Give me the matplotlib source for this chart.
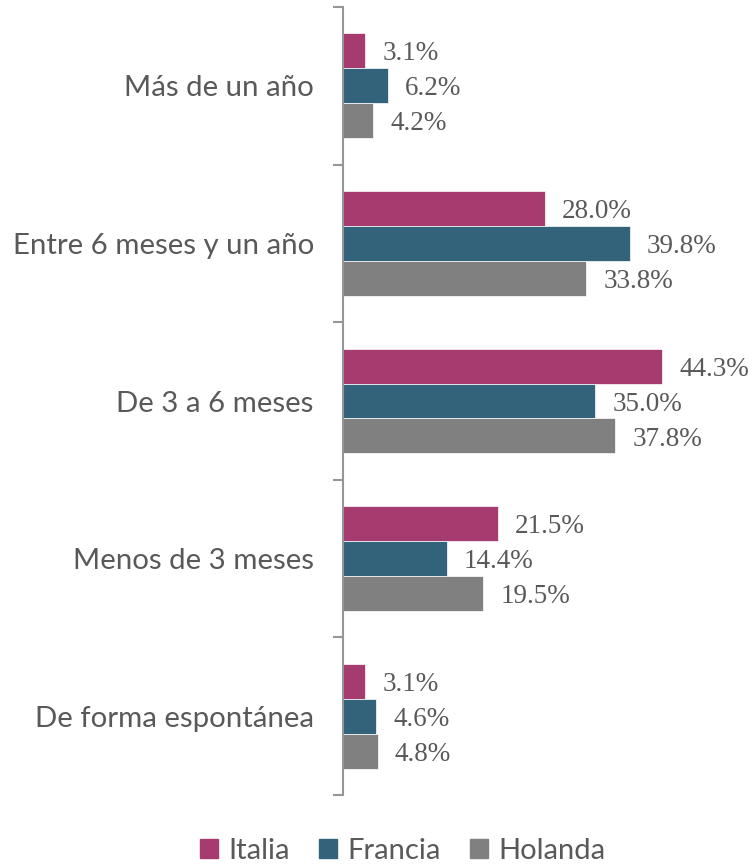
import matplotlib.pyplot as plt
import numpy as np
from matplotlib.patches import Patch

categories = ['Más de un año', 'Entre 6 meses y un año', 'De 3 a 6 meses',
              'Menos de 3 meses', 'De forma espontánea']
series = ['Italia', 'Francia', 'Holanda']
italia = [3.1, 28.0, 44.3, 21.5, 3.1]
francia = [6.2, 39.8, 35.0, 14.4, 4.6]
holanda = [4.2, 33.8, 37.8, 19.5, 4.8]
colors = ['#A63B6F', '#33637B', '#808080']

text_col = '#595959'
axis_col = '#969696'

fig = plt.figure(figsize=(7.53, 8.65), dpi=100)
ax = fig.add_axes([343 / 753, 1 - 795 / 865, 360 / 753, 788 / 865])

n = len(categories)
y = np.arange(n)
h = 0.222
for i, (vals, col) in enumerate(zip([italia, francia, holanda], colors)):
    pos = y + (i - 1) * h
    ax.barh(pos, vals, height=h, color=col, edgecolor='white', linewidth=0.5)
    for p, v in zip(pos, vals):
        ax.text(v + 2.4, p + 0.02, f'{v:.1f}%', va='center', ha='left',
                fontsize=19.5, family='Liberation Serif', color=text_col)

ax.set_ylim(n - 0.5, -0.5)
ax.set_xlim(0, 50)
ax.set_yticks(y)
ax.set_yticklabels(categories, fontsize=21.2, family='Lato', color=text_col)
ax.set_yticks(np.arange(n + 1) - 0.5, minor=True)
ax.tick_params(axis='y', which='major', length=0, pad=21)
ax.tick_params(axis='y', which='minor', length=7, width=1.5, color=axis_col)
ax.set_xticks([])
for s in ['top', 'right', 'bottom']:
    ax.spines[s].set_visible(False)
ax.spines['left'].set_color(axis_col)
ax.spines['left'].set_linewidth(1.5)

handles = [Patch(color=c, label=s) for c, s in zip(colors, series)]
leg = fig.legend(handles=handles, loc='center', bbox_to_anchor=(0.535, 1 - 851 / 865),
                 ncol=3, frameon=False, handlelength=0.62, handleheight=0.62,
                 handletextpad=0.35, columnspacing=1.0,
                 prop={'family': 'Lato', 'size': 21})
for t in leg.get_texts():
    t.set_color(text_col)

fig.savefig('out.png', dpi=100)
